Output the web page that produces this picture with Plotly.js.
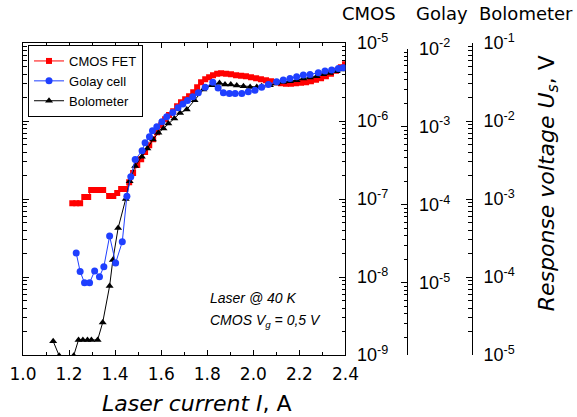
<!DOCTYPE html>
<html>
<head>
<meta charset="utf-8">
<script src="https://cdn.plot.ly/plotly-3.0.1.min.js"></script>
<style>html,body{margin:0;padding:0;background:#fff;}#chart{width:577px;height:417px;}</style>
</head>
<body>
<div id="chart"></div>
<script>
// Laser current I (A) and response voltages (V)
const currentCmos = [1.214,1.231,1.248,1.266,1.283,1.296,1.314,1.331,1.348,1.374,1.392,1.409,1.426,1.444,
  1.461,1.478,1.496,1.513,1.530,1.548,1.565,1.582,1.600,1.617,1.634,1.652,1.669,1.686,1.704,1.721,1.739,1.756,1.773,1.791,
  1.808,1.825,1.843,1.860,1.882,1.903,1.925,1.947,1.968,1.990,2.012,2.033,2.055,2.077,2.098,2.120,2.142,2.163,2.185,2.207,
  2.229,2.250,2.272,2.294,2.315,2.337,2.359,2.380,2.398];
const cmosFet = [8.85e-8,8.85e-8,8.85e-8,1.06e-7,1.06e-7,1.30e-7,1.30e-7,1.30e-7,1.30e-7,1.09e-7,1.09e-7,1.19e-7,1.34e-7,1.34e-7,
  1.64e-7,2.15e-7,2.72e-7,3.24e-7,3.99e-7,4.90e-7,5.85e-7,7.19e-7,8.83e-7,1.05e-6,1.19e-6,1.33e-6,1.55e-6,1.74e-6,1.90e-6,2.08e-6,2.34e-6,2.71e-6,3.14e-6,3.43e-6,
  3.64e-6,3.86e-6,4.04e-6,4.09e-6,4.04e-6,3.97e-6,3.86e-6,3.80e-6,3.75e-6,3.64e-6,3.53e-6,3.43e-6,3.33e-6,3.24e-6,3.14e-6,3.05e-6,3.01e-6,3.01e-6,3.05e-6,3.09e-6,
  3.14e-6,3.24e-6,3.38e-6,3.53e-6,3.75e-6,4.04e-6,4.41e-6,4.89e-6,5.34e-6];

const currentGolay = [1.231,1.248,1.267,1.289,1.311,1.332,1.351,1.376,1.402,1.431,
  1.451,1.468,1.487,1.517,1.530,1.549,1.562,1.581,1.603,1.624,
  1.650,1.673,1.694,1.714,1.737,1.761,1.791,1.824,1.847,
  1.870,1.896,1.921,1.950,1.978,2.007,2.036,2.065,2.101,2.130,
  2.159,2.188,2.217,2.246,2.282,2.311,2.340,2.369,2.390];
const golayCell = [2.41e-5,1.40e-5,1.0e-5,1.0e-5,1.42e-5,1.20e-5,1.61e-5,3.97e-5,1.79e-5,3.36e-5,
  1.29e-4,2.29e-4,3.79e-4,4.91e-4,6.22e-4,7.43e-4,8.87e-4,9.97e-4,1.16e-3,1.34e-3,
  1.52e-3,1.75e-3,1.95e-3,2.17e-3,2.42e-3,2.72e-3,3.19e-3,3.72e-3,3.12e-3,
  2.72e-3,2.67e-3,2.67e-3,2.67e-3,2.80e-3,2.94e-3,3.19e-3,3.48e-3,3.76e-3,3.95e-3,
  4.15e-3,4.36e-3,4.58e-3,4.67e-3,4.90e-3,5.15e-3,5.31e-3,5.58e-3,5.68e-3];

const currentBolo = [1.131,1.157,1.220,1.241,1.260,1.280,1.297,1.324,1.346,1.376,
  1.390,1.413,1.446,1.463,1.487,1.516,1.540,1.564,1.588,1.610,
  1.631,1.657,1.682,1.711,1.745,1.783,1.820,1.853,1.877,1.902,
  1.928,1.957,1.986,2.015,2.036,2.072,2.101,2.130,2.159,2.188,
  2.217,2.246,2.275,2.304,2.333,2.362,2.390];
const bolometer = [1.5e-5,9.8e-6,9.8e-6,1.56e-5,1.56e-5,1.56e-5,1.56e-5,1.56e-5,2.61e-5,7.67e-5,
  1.65e-4,4.24e-4,1.0e-3,1.69e-3,2.64e-3,3.47e-3,4.45e-3,5.79e-3,7.05e-3,8.02e-3,
  9.29e-3,1.08e-2,1.27e-2,1.40e-2,1.85e-2,2.53e-2,2.87e-2,3.08e-2,2.93e-2,2.93e-2,
  2.85e-2,2.79e-2,2.73e-2,2.73e-2,2.79e-2,2.87e-2,3.02e-2,3.17e-2,3.24e-2,3.33e-2,
  3.50e-2,3.61e-2,3.75e-2,3.97e-2,4.13e-2,4.35e-2,4.56e-2];

const cmosTickVals = [1e-9,1e-8,1e-7,1e-6,1e-5];
const cmosTickText = ['10<sup>-9</sup>','10<sup>-8</sup>','10<sup>-7</sup>','10<sup>-6</sup>','10<sup>-5</sup>'];
const golayTickVals = [1e-5,1e-4,1e-3,1e-2];
const golayTickText = ['10<sup>-5</sup>','10<sup>-4</sup>','10<sup>-3</sup>','10<sup>-2</sup>'];
const boloTickVals = [1e-5,1e-4,1e-3,1e-2,1e-1];
const boloTickText = ['10<sup>-5</sup>','10<sup>-4</sup>','10<sup>-3</sup>','10<sup>-2</sup>','10<sup>-1</sup>'];

const traces = [
  {x: currentCmos, y: cmosFet, xaxis:'x', yaxis:'y', name:'CMOS FET', mode:'lines+markers',
   line:{color:'#ff0000', width:1}, marker:{symbol:'square', size:6, color:'#ff0000'}},
  {x: currentGolay, y: golayCell, xaxis:'x', yaxis:'y2', name:'Golay cell', mode:'lines+markers',
   line:{color:'#1f3fff', width:1}, marker:{symbol:'circle', size:7, color:'#1f3fff'}},
  {x: currentBolo, y: bolometer, xaxis:'x', yaxis:'y3', name:'Bolometer', mode:'lines+markers',
   line:{color:'#000000', width:1}, marker:{symbol:'triangle-up', size:7, color:'#000000'}}
];

const tickFontY = {family:'Liberation Sans, Arial, sans-serif', size:18, color:'#000'};
function logAxis(extra){
  return Object.assign({
    type:'log', side:'right', ticks:'inside', ticklen:6, tickwidth:1, tickcolor:'#000',
    showline:true, linecolor:'#000', linewidth:1, showgrid:false, zeroline:false,
    tickmode:'array', tickfont:tickFontY, ticklabelstandoff:7,
    minor:{ticks:'inside', ticklen:3.5, tickwidth:1, tickcolor:'#000', dtick:'D1', showgrid:false}
  }, extra);
}

const layout = {
  width:577, height:417,
  margin:{l:23, r:20, t:43, b:62},
  paper_bgcolor:'#ffffff', plot_bgcolor:'rgba(0,0,0,0)',
  font:{family:'Liberation Sans, Arial, sans-serif', color:'#000'},
  showlegend:true,
  legend:{x:0.0094, y:0.9936, xanchor:'left', yanchor:'top', bgcolor:'#ffffff',
          bordercolor:'#000', borderwidth:1, itemwidth:30, tracegroupgap:0,
          font:{family:'Liberation Sans, Arial, sans-serif', size:13, color:'#000'}},
  xaxis:{domain:[0,0.6039], range:[1.0,2.4], tick0:1.0, dtick:0.2, tickformat:'.1f',
         ticks:'inside', ticklen:5, tickcolor:'#000', showline:true, linecolor:'#000', linewidth:1,
         mirror:'ticks', showgrid:false, zeroline:false, anchor:'y', ticklabelstandoff:4,
         tickfont:{family:'DejaVu Sans, sans-serif', size:17, color:'#000'},
         minor:{ticks:'inside', ticklen:3, tickcolor:'#000', dtick:0.1, showgrid:false}},
  yaxis: logAxis({range:[-9,-5], anchor:'x', mirror:'ticks', tickvals:cmosTickVals, ticktext:cmosTickText}),
  yaxis2: logAxis({range:[-5.924,-2], domain:[0,0.982], anchor:'free', position:0.720,
                   tickvals:golayTickVals, ticktext:golayTickText}),
  yaxis3: logAxis({range:[-5,-1], overlaying:'y', anchor:'free', position:0.8408,
                   tickvals:boloTickVals, ticktext:boloTickText}),
  annotations:[
    {text:'CMOS', xref:'paper', yref:'paper', x:0.648, y:1.096, xanchor:'center', yanchor:'middle', showarrow:false,
     font:{family:'DejaVu Sans, sans-serif', size:18, color:'#000'}},
    {text:'Golay', xref:'paper', yref:'paper', x:0.785, y:1.096, xanchor:'center', yanchor:'middle', showarrow:false,
     font:{family:'DejaVu Sans, sans-serif', size:18, color:'#000'}},
    {text:'Bolometer', xref:'paper', yref:'paper', x:0.942, y:1.096, xanchor:'center', yanchor:'middle', showarrow:false,
     font:{family:'DejaVu Sans, sans-serif', size:18, color:'#000'}},
    {text:'<i>Response voltage U</i><sub><i>s</i></sub>, V', xref:'paper', yref:'paper', x:0.983, y:0.55,
     xanchor:'center', yanchor:'middle', textangle:-90, showarrow:false,
     font:{family:'DejaVu Sans, sans-serif', size:22, color:'#000'}},
    {text:'<i>Laser current I</i>, A', xref:'paper', yref:'paper', x:0.325, y:-0.157,
     xanchor:'center', yanchor:'middle', showarrow:false,
     font:{family:'DejaVu Sans, sans-serif', size:22, color:'#000'}},
    {text:'<i>Laser @ 40 K</i>', xref:'paper', yref:'paper', x:0.3464, y:0.1827,
     xanchor:'left', yanchor:'middle', showarrow:false,
     font:{family:'Liberation Sans, Arial, sans-serif', size:14, color:'#000'}},
    {text:'<i>CMOS V<sub>g</sub> = 0,5 V</i>', xref:'paper', yref:'paper', x:0.3464, y:0.11,
     xanchor:'left', yanchor:'middle', showarrow:false,
     font:{family:'Liberation Sans, Arial, sans-serif', size:14, color:'#000'}}
  ]
};

Plotly.newPlot('chart', traces, layout, {displayModeBar:false, staticPlot:true});
</script>
</body>
</html>
